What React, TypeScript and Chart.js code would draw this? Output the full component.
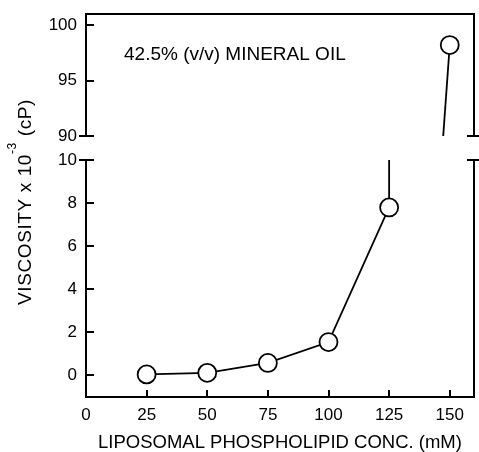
import React, { useEffect, useRef } from 'react';
import { Chart, registerables } from 'chart.js';

Chart.register(...registerables);

// ---- data ----
const lowerX = [25, 50, 75, 100, 125, 125];
const lowerY = [0.05, 0.12, 0.58, 1.55, 7.8, 10];
const lowerMarkers = [true, true, true, true, true, false];
const upperX = [147.3, 150];
const upperY = [90, 98.2];
const upperMarkers = [false, true];
const xTicks = [0, 25, 50, 75, 100, 125, 150];
const lowerYTicks = [0, 2, 4, 6, 8, 10];
const upperYTicks = [90, 95, 100];
const xTitle = 'LIPOSOMAL PHOSPHOLIPID CONC. (mM)';
const yTitleMain = 'VISCOSITY x 10';
const yTitleSup = '-3';
const yTitleEnd = ' (cP)';
const annotation = '42.5% (v/v) MINERAL OIL';

const FONT = '"Liberation Sans", Arial, Helvetica, sans-serif';
const W = 479;
const H = 452;

const zeroPad = (s: any) => {
  s.paddingTop = 0;
  s.paddingBottom = 0;
  s.paddingLeft = 0;
  s.paddingRight = 0;
};

const framePlugin = {
  id: 'frame',
  afterDraw(chart: any, _args: any, opts: any) {
    const { ctx, chartArea: a } = chart;
    const xs = chart.scales.x;
    const ys = chart.scales.y;
    ctx.save();
    ctx.strokeStyle = '#000';
    ctx.lineWidth = 2;
    ctx.beginPath();
    ctx.moveTo(a.right, a.top - (opts.top ? 1 : 0));
    ctx.lineTo(a.right, a.bottom + (opts.xTicks ? 1 : 0));
    if (opts.top) {
      ctx.moveTo(a.left - 1, a.top);
      ctx.lineTo(a.right + 1, a.top);
    }
    ys.ticks.forEach((t: any) => {
      const py = Math.round(ys.getPixelForValue(t.value));
      ctx.moveTo(a.left, py);
      ctx.lineTo(a.left + 8, py);
    });
    const pb = Math.round(ys.getPixelForValue(opts.breakValue));
    ctx.moveTo(a.left - 7, pb);
    ctx.lineTo(a.left, pb);
    ctx.moveTo(a.right - 7, pb);
    ctx.lineTo(a.right + 6, pb);
    if (opts.xTicks) {
      xs.ticks.forEach((t: any) => {
        if (t.value === 0) return;
        const px = Math.round(xs.getPixelForValue(t.value));
        ctx.moveTo(px, a.bottom);
        ctx.lineTo(px, a.bottom - 7);
      });
    }
    ctx.stroke();

    ctx.fillStyle = '#000';
    if (opts.annotation) {
      ctx.font = `19px ${FONT}`;
      ctx.textAlign = 'left';
      ctx.textBaseline = 'alphabetic';
      ctx.fillText(opts.annotation, a.left + 38, a.top + 46);
    }
    if (opts.yTitle) {
      ctx.save();
      ctx.translate(31, 202);
      ctx.rotate(-Math.PI / 2);
      (ctx as any).letterSpacing = '0.6px';
      ctx.textBaseline = 'alphabetic';
      ctx.textAlign = 'left';
      ctx.font = `19px ${FONT}`;
      const w1 = ctx.measureText(yTitleMain).width;
      ctx.font = `12px ${FONT}`;
      const w2 = ctx.measureText(yTitleSup).width;
      ctx.font = `19px ${FONT}`;
      const w3 = ctx.measureText(yTitleEnd).width;
      const total = w1 + w2 + w3;
      let x0 = -total / 2;
      ctx.fillText(yTitleMain, x0, 0);
      x0 += w1;
      ctx.font = `12px ${FONT}`;
      ctx.fillText(yTitleSup, x0, -15);
      x0 += w2;
      ctx.font = `19px ${FONT}`;
      ctx.fillText(yTitleEnd, x0, 0);
      ctx.restore();
    }
    ctx.restore();
  },
};

function makeDataset(xv: number[], yv: number[], marks: boolean[]) {
  return {
    data: xv.map((x, i) => ({ x, y: yv[i] })),
    borderColor: '#000',
    borderWidth: 1.8,
    pointRadius: marks.map((m) => (m ? 9 : 0)),
    pointBackgroundColor: '#fff',
    pointBorderColor: '#000',
    pointBorderWidth: 1.8,
    tension: 0,
    fill: false,
  };
}

export default function App() {
  const upperRef = useRef<HTMLCanvasElement>(null);
  const lowerRef = useRef<HTMLCanvasElement>(null);

  useEffect(() => {
    Chart.defaults.font.family = FONT;
    Chart.defaults.color = '#000';

    const upper = new Chart(upperRef.current!, {
      type: 'line',
      data: { datasets: [makeDataset(upperX, upperY, upperMarkers) as any] },
      plugins: [framePlugin],
      options: {
        responsive: false,
        animation: false,
        layout: { autoPadding: false, padding: { top: 14, right: 5, left: 0, bottom: H - 136 } },
        plugins: {
          legend: { display: false },
          tooltip: { enabled: false },
          frame: { top: true, breakValue: 90, annotation },
        } as any,
        scales: {
          x: {
            type: 'linear',
            display: false,
            min: 0,
            max: 160,
          },
          y: {
            type: 'linear',
            min: 90,
            max: 101,
            afterBuildTicks: (s: any) => {
              s.ticks = upperYTicks.map((v) => ({ value: v }));
            },
            afterFit: (s: any) => {
              s.width = 86;
              zeroPad(s);
            },
            grid: { display: false, drawTicks: false },
            border: { display: true, color: '#000', width: 2 },
            ticks: { padding: 9, font: { size: 17 }, color: '#000' },
          },
        },
      },
    });

    const lower = new Chart(lowerRef.current!, {
      type: 'line',
      data: { datasets: [makeDataset(lowerX, lowerY, lowerMarkers) as any] },
      plugins: [framePlugin],
      options: {
        responsive: false,
        animation: false,
        layout: { autoPadding: false, padding: { top: 160, right: 5, left: 0, bottom: 0 } },
        plugins: {
          legend: { display: false },
          tooltip: { enabled: false },
          frame: { top: false, breakValue: 10, xTicks: true, yTitle: true },
        } as any,
        scales: {
          x: {
            type: 'linear',
            min: 0,
            max: 160,
            afterBuildTicks: (s: any) => {
              s.ticks = xTicks.map((v) => ({ value: v }));
            },
            afterFit: (s: any) => {
              s.height = 55;
              zeroPad(s);
            },
            grid: { display: false, drawTicks: false },
            border: { display: true, color: '#000', width: 2 },
            ticks: { padding: 8, font: { size: 17 }, color: '#000', maxRotation: 0 },
            title: {
              display: true,
              text: xTitle,
              font: { size: 18.5 },
              color: '#000',
              padding: { top: 0, bottom: -2 },
            },
          },
          y: {
            type: 'linear',
            min: -1,
            max: 10,
            afterBuildTicks: (s: any) => {
              s.ticks = lowerYTicks.map((v) => ({ value: v }));
            },
            afterFit: (s: any) => {
              s.width = 86;
              zeroPad(s);
            },
            grid: { display: false, drawTicks: false },
            border: { display: true, color: '#000', width: 2 },
            ticks: { padding: 9, font: { size: 17 }, color: '#000' },
          },
        },
      },
    });

    return () => {
      upper.destroy();
      lower.destroy();
    };
  }, []);

  const canvasStyle: React.CSSProperties = {
    position: 'absolute',
    left: 0,
    top: 0,
    width: W,
    height: H,
  };

  return (
    <div style={{ position: 'absolute', left: 0, top: 0, width: W, height: H, background: '#fff' }}>
      <canvas ref={upperRef} width={W} height={H} style={canvasStyle} />
      <canvas ref={lowerRef} width={W} height={H} style={canvasStyle} />
    </div>
  );
}
